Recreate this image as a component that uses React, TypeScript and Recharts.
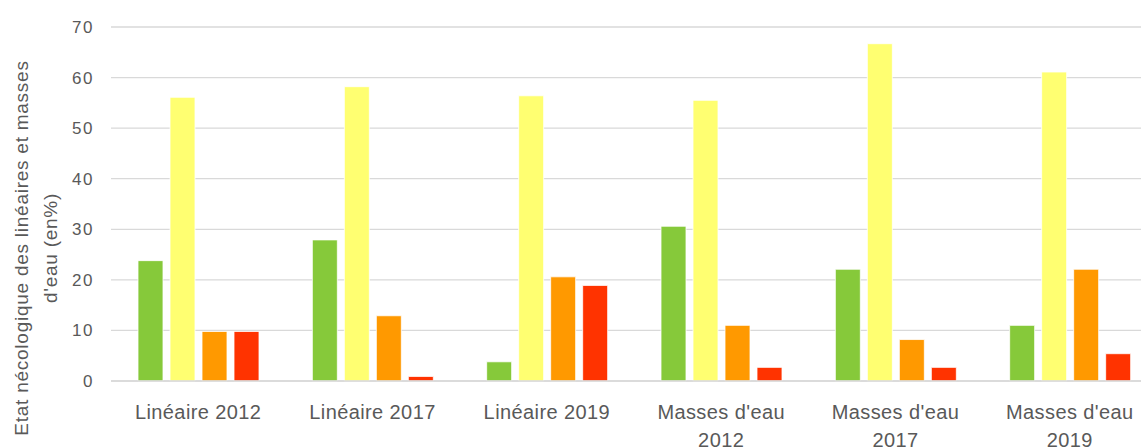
import { BarChart, Bar, XAxis, YAxis, CartesianGrid } from "recharts";

const categories = [
  "Linéaire 2012",
  "Linéaire 2017",
  "Linéaire 2019",
  "Masses d'eau 2012",
  "Masses d'eau 2017",
  "Masses d'eau 2019",
];

const tresBon = [23.8, 27.9, 3.8, 30.6, 22.1, 11];
const bon = [56.1, 58.2, 56.4, 55.5, 66.7, 61.1];
const moyen = [9.8, 12.9, 20.6, 11, 8.2, 22.1];
const mediocre = [9.8, 0.9, 18.9, 2.7, 2.7, 5.4];

const yTicks = [0, 10, 20, 30, 40, 50, 60, 70];

const COLORS = {
  tresBon: "#86c93a",
  bon: "#ffff71",
  moyen: "#ff9900",
  mediocre: "#ff3300",
};

const data = categories.map((name, i) => ({
  name,
  tresBon: tresBon[i],
  bon: bon[i],
  moyen: moyen[i],
  mediocre: mediocre[i],
}));

const FONT = "'Liberation Sans', Arial, sans-serif";

function splitLabel(label: string): string[] {
  if (label.length <= 14) return [label];
  const cut = label.lastIndexOf(" ");
  return [label.slice(0, cut), label.slice(cut + 1)];
}

function CategoryTick(props: any) {
  const { x, y, payload } = props;
  const lines = splitLabel(String(payload.value));
  return (
    <text
      x={x}
      y={y}
      textAnchor="middle"
      fill="#595959"
      fontSize={20}
      fontFamily={FONT}
      letterSpacing={0.4}
    >
      {lines.map((line, i) => (
        <tspan key={i} x={x} dy={i === 0 ? 30 : 28}>
          {line}
        </tspan>
      ))}
    </text>
  );
}

function YTitle() {
  return (
    <text
      transform="translate(0,248) rotate(-90)"
      textAnchor="middle"
      fill="#595959"
      fontSize={19}
      fontFamily={FONT}
      letterSpacing={0.75}
    >
      <tspan x={0} y={28}>
        Etat nécologique des linéaires et masses
      </tspan>
      <tspan x={0} y={57}>
        d'eau (en%)
      </tspan>
    </text>
  );
}

export default function App() {
  return (
    <div
      style={{
        position: "absolute",
        left: 0,
        top: 0,
        width: 1141,
        height: 448,
        overflow: "hidden",
        background: "#fff",
      }}
    >
      <BarChart
        width={1158}
        height={448}
        data={data}
        margin={{ top: 27, right: 1, bottom: 0, left: 0 }}
        barSize={25}
        barGap={7}
      >
        <CartesianGrid vertical={false} stroke="#d9d9d9" strokeWidth={1.3} />
        <XAxis
          dataKey="name"
          height={67}
          axisLine={{ stroke: "#d9d9d9", strokeWidth: 1.3 }}
          tickLine={false}
          interval={0}
          tick={<CategoryTick />}
        />
        <YAxis
          width={111}
          domain={[0, 70]}
          ticks={yTicks}
          axisLine={false}
          tickLine={false}
          tickMargin={11}
          tick={{ fill: "#595959", fontSize: 17, fontFamily: FONT, letterSpacing: 1.5 }}
          label={{ content: () => <YTitle /> }}
        />
        <Bar dataKey="tresBon" fill={COLORS.tresBon} stroke="#fff" strokeWidth={0.8} isAnimationActive={false} />
        <Bar dataKey="bon" fill={COLORS.bon} stroke="#fff" strokeWidth={0.8} isAnimationActive={false} />
        <Bar dataKey="moyen" fill={COLORS.moyen} stroke="#fff" strokeWidth={0.8} isAnimationActive={false} />
        <Bar dataKey="mediocre" fill={COLORS.mediocre} stroke="#fff" strokeWidth={0.8} isAnimationActive={false} />
      </BarChart>
    </div>
  );
}
